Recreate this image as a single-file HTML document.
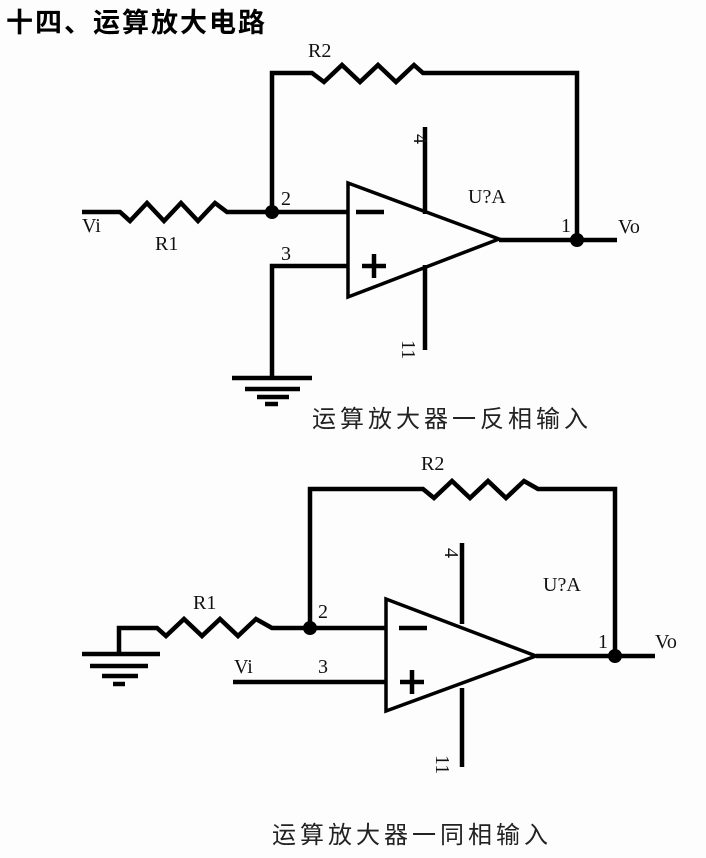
<!DOCTYPE html>
<html><head><meta charset="utf-8"><style>
html,body{margin:0;padding:0;background:#fff;}
svg{display:block;}
.s{font-family:"Liberation Serif",serif;font-size:20px;fill:#111;}
.c{font-family:"Liberation Sans","Noto Sans CJK SC",sans-serif;fill:#222;}
</style></head><body>
<svg width="706" height="858" viewBox="0 0 706 858" xmlns="http://www.w3.org/2000/svg">
<rect width="706" height="858" fill="#fdfdfd"/>
<text x="6" y="32" class="c" style="font-size:27px;font-weight:bold;letter-spacing:2px;fill:#000">十四、运算放大电路</text>

<g fill="none" stroke="#000" stroke-width="4.5" stroke-linejoin="miter">
<polyline points="272,212 272,73 312,73 324,82 342,65 360,82 378,65 396,82 414,65 423,73 577,73 577,240"/>
<polyline points="82,212 120,212 130,221 147,203 164,221 181,203 198,221 215,203 227,212 348,212"/>
<polyline points="348,266 272,266 272,378"/>
<polygon points="348,183 348,297 499,239" stroke-width="3.5"/>
<line x1="425" y1="127" x2="425" y2="214"/>
<line x1="425" y1="265" x2="425" y2="350"/>
<line x1="499" y1="240" x2="617" y2="240"/>
<line x1="232" y1="378" x2="312" y2="378"/>
<line x1="245" y1="389" x2="300" y2="389"/>
<line x1="257" y1="397" x2="289" y2="397"/>
<line x1="265" y1="404" x2="278" y2="404"/>
<line x1="356" y1="212" x2="384" y2="212"/>
<line x1="362" y1="266" x2="386" y2="266"/>
<line x1="374" y1="254" x2="374" y2="278"/>

<polyline points="310,628 310,489 423,489 434,498 452,481 470,498 488,481 506,498 524,481 538,489 615,489 615,656"/>
<polyline points="119,654 119,628 157,628 166,636 184,619 202,636 220,619 238,636 256,619 272,628 386,628"/>
<line x1="233" y1="682" x2="386" y2="682"/>
<polygon points="386,599 386,711 536,656" stroke-width="3.5"/>
<line x1="462" y1="543" x2="462" y2="624"/>
<line x1="462" y1="688" x2="462" y2="767"/>
<line x1="536" y1="656" x2="655" y2="656"/>
<line x1="82" y1="654" x2="160" y2="654"/>
<line x1="90" y1="666" x2="148" y2="666"/>
<line x1="102" y1="676" x2="138" y2="676"/>
<line x1="113" y1="684" x2="125" y2="684"/>
<line x1="399" y1="628" x2="427" y2="628"/>
<line x1="400" y1="682" x2="424" y2="682"/>
<line x1="412" y1="670" x2="412" y2="694"/>
</g>
<g fill="#000">
<circle cx="272" cy="212" r="7"/>
<circle cx="577" cy="240" r="7"/>
<circle cx="310" cy="628" r="7"/>
<circle cx="615" cy="656" r="7"/>
</g>

<text x="308" y="57" class="s">R2</text>
<text x="82" y="232" class="s">Vi</text>
<text x="155" y="250" class="s">R1</text>
<text x="281" y="205" class="s">2</text>
<text x="281" y="260" class="s">3</text>
<text x="468" y="203" class="s">U?A</text>
<text x="561" y="232" class="s">1</text>
<text x="618" y="233" class="s">Vo</text>
<text class="s" transform="translate(414,134) rotate(90)">4</text>
<text class="s" transform="translate(402,340) rotate(90)">11</text>
<text x="312" y="427" class="c" style="font-size:24px;letter-spacing:4px">运算放大器一反相输入</text>

<text x="421" y="470" class="s">R2</text>
<text x="193" y="609" class="s">R1</text>
<text x="318" y="618" class="s">2</text>
<text x="318" y="673" class="s">3</text>
<text x="234" y="673" class="s">Vi</text>
<text x="543" y="591" class="s">U?A</text>
<text x="598" y="648" class="s">1</text>
<text x="655" y="648" class="s">Vo</text>
<text class="s" transform="translate(445,548) rotate(90)">4</text>
<text class="s" transform="translate(436,755) rotate(90)">11</text>
<text x="272" y="843" class="c" style="font-size:24px;letter-spacing:4px">运算放大器一同相输入</text>
</svg>
</body></html>
